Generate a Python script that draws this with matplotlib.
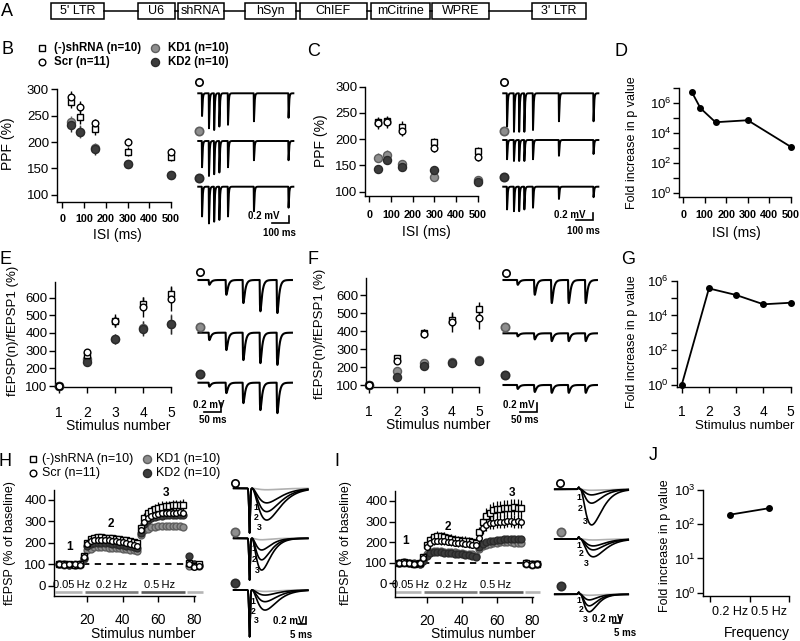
import numpy as np
import matplotlib
matplotlib.use("Agg")
import matplotlib.pyplot as plt
from matplotlib.patches import Rectangle
from matplotlib.ticker import FixedLocator, FuncFormatter, NullLocator

plt.rcParams['font.family'] = ['Liberation Sans', 'DejaVu Sans']
plt.rcParams['mathtext.fontset'] = 'custom'
plt.rcParams['mathtext.rm'] = 'Liberation Sans'
plt.rcParams['mathtext.it'] = 'Liberation Sans:italic'
plt.rcParams['mathtext.bf'] = 'Liberation Sans:bold'

# ---------------- DATA ----------------
construct = ["5' LTR", "U6", "shRNA", "hSyn", "ChIEF", "mCitrine", "WPRE", "3' LTR"]
group_keys = ["shRNA", "Scr", "KD1", "KD2"]
group_labels = ["(-)shRNA (n=10)", "Scr (n=11)", "KD1 (n=10)", "KD2 (n=10)"]

isi_ms = [40, 80, 150, 300, 500]
B_ppf = {"shRNA": [275, 247, 224, 182, 172], "Scr": [285, 267, 236, 200, 181],
         "KD1": [238, 220, 188, 158, 137], "KD2": [232, 220, 186, 158, 137]}
B_err = {"shRNA": [10, 12, 10, 8, 8], "Scr": [12, 10, 8, 8, 8],
         "KD1": [12, 12, 10, 6, 6], "KD2": [12, 10, 10, 6, 6]}
C_ppf = {"shRNA": [233, 235, 224, 194, 178], "Scr": [230, 232, 216, 183, 166],
         "KD1": [165, 170, 152, 128, 122], "KD2": [143, 160, 148, 142, 119]}
C_err = {"shRNA": [10, 10, 10, 8, 8], "Scr": [10, 10, 10, 8, 8],
         "KD1": [8, 10, 6, 6, 5], "KD2": [8, 8, 6, 6, 5]}
D_fold = [5.5e6, 4.6e5, 5.3e4, 7.2e4, 1.2e3]

stim_idx = [1, 2, 3, 4, 5]
E_ratio = {"shRNA": [100, 275, 470, 565, 622], "Scr": [100, 292, 465, 548, 592],
           "KD1": [100, 252, 365, 427, 450], "KD2": [100, 235, 365, 425, 448]}
E_err = {"shRNA": [0, 15, 35, 40, 45], "Scr": [0, 20, 30, 55, 70],
         "KD1": [0, 15, 30, 40, 55], "KD2": [0, 15, 30, 40, 55]}
F_ratio = {"shRNA": [100, 248, 390, 461, 520], "Scr": [100, 232, 385, 448, 472],
           "KD1": [100, 176, 222, 230, 238], "KD2": [100, 145, 205, 222, 233]}
F_err = {"shRNA": [0, 15, 20, 40, 40], "Scr": [0, 15, 25, 55, 60],
         "KD1": [0, 10, 10, 12, 12], "KD2": [0, 8, 10, 10, 12]}
G_fold = [1, 3.6e5, 1.5e5, 4.4e4, 5.4e4]

stim_num = [4, 7, 10, 13, 16, 18, 20, 22, 24, 26, 28, 30, 32, 34, 36, 38, 40, 42, 44, 46, 48,
            50, 52, 54, 56, 58, 60, 62, 64, 66, 68, 70, 72, 74, 77, 80, 83]
H_val = {
    "shRNA": [100, 102, 100, 98, 100, 140, 200, 218, 225, 228, 226, 225, 224, 222, 220, 218, 215, 212, 208, 204, 198,
              270, 318, 338, 350, 358, 364, 368, 370, 372, 374, 375, 376, 378, 105, 95, 100],
    "Scr": [100, 98, 102, 100, 97, 135, 195, 208, 214, 216, 215, 214, 212, 210, 208, 205, 203, 200, 195, 190, 185,
            258, 298, 314, 324, 330, 334, 337, 339, 340, 341, 340, 342, 340, 100, 90, 95],
    "KD1": [100, 99, 97, 100, 98, 125, 165, 174, 180, 182, 182, 180, 178, 177, 176, 175, 173, 170, 168, 165, 162,
            235, 258, 267, 272, 275, 277, 278, 278, 280, 280, 279, 278, 276, 95, 100, 98],
    "KD2": [100, 101, 99, 98, 100, 130, 185, 195, 200, 202, 202, 200, 198, 196, 194, 192, 190, 187, 184, 180, 176,
            245, 290, 305, 314, 320, 324, 327, 329, 330, 331, 332, 332, 331, 140, 100, 95],
}
H_err = {
    "shRNA": [4, 4, 4, 4, 4, 10, 12, 14, 15, 15, 15, 15, 15, 15, 15, 15, 14, 14, 14, 14, 14,
              15, 20, 22, 22, 24, 24, 25, 25, 25, 25, 25, 25, 25, 12, 10, 10],
    "Scr": [4, 4, 4, 4, 4, 10, 12, 12, 13, 13, 13, 13, 13, 13, 13, 12, 12, 12, 12, 12, 12,
            14, 18, 20, 20, 20, 21, 21, 21, 22, 22, 22, 22, 22, 10, 10, 10],
    "KD1": [3, 3, 3, 3, 3, 8, 9, 10, 10, 10, 10, 10, 10, 10, 10, 10, 10, 10, 10, 10, 10,
            10, 12, 12, 12, 13, 13, 13, 13, 13, 13, 13, 13, 13, 8, 8, 8],
    "KD2": [3, 3, 3, 3, 3, 8, 10, 10, 11, 11, 11, 11, 11, 11, 11, 11, 11, 11, 11, 11, 11,
            12, 14, 15, 15, 15, 15, 15, 15, 15, 15, 15, 15, 15, 15, 8, 8],
}
I_val = {
    "shRNA": [100, 102, 98, 95, 98, 130, 188, 212, 224, 230, 228, 225, 220, 216, 212, 210, 208, 206, 204, 200, 198,
              250, 300, 328, 344, 354, 360, 362, 365, 367, 368, 370, 368, 365, 100, 95, 92],
    "Scr": [100, 98, 100, 96, 97, 125, 175, 194, 204, 208, 206, 205, 203, 200, 198, 196, 194, 192, 190, 188, 185,
            220, 268, 284, 292, 295, 298, 300, 300, 302, 302, 300, 301, 300, 95, 88, 95],
    "KD1": [100, 100, 98, 96, 95, 112, 140, 150, 155, 156, 155, 154, 152, 150, 150, 148, 146, 144, 142, 140, 135,
            165, 180, 188, 192, 196, 198, 200, 200, 201, 200, 198, 196, 195, 95, 90, 92],
    "KD2": [100, 102, 100, 97, 96, 110, 135, 145, 150, 150, 150, 148, 146, 145, 144, 142, 140, 138, 136, 134, 130,
            175, 190, 200, 205, 208, 210, 212, 214, 215, 215, 216, 215, 214, 98, 92, 95],
}
I_err = {
    "shRNA": [5, 5, 5, 5, 5, 12, 18, 20, 22, 22, 22, 22, 22, 22, 22, 22, 22, 22, 22, 22, 22,
              25, 35, 38, 40, 40, 40, 40, 40, 40, 40, 40, 40, 40, 10, 10, 10],
    "Scr": [5, 5, 5, 5, 5, 10, 15, 16, 18, 18, 18, 18, 18, 18, 18, 18, 18, 18, 18, 18, 18,
            20, 28, 30, 30, 30, 30, 30, 30, 30, 30, 30, 30, 30, 8, 8, 8],
    "KD1": [3, 3, 3, 3, 3, 6, 8, 8, 8, 8, 8, 8, 8, 8, 8, 8, 8, 8, 8, 8, 8,
            8, 10, 10, 10, 10, 10, 10, 10, 10, 10, 10, 10, 10, 6, 6, 6],
    "KD2": [3, 3, 3, 3, 3, 6, 8, 8, 8, 8, 8, 8, 8, 8, 8, 8, 8, 8, 8, 8, 8,
            8, 10, 10, 10, 10, 10, 10, 10, 10, 10, 10, 10, 10, 6, 6, 6],
}
freq_phases = [("0.05 Hz", 2, 17), ("0.2 Hz", 18.5, 48.5), ("0.5 Hz", 50, 75), ("", 76, 85)]
freq_labels = ["0.2 Hz", "0.5 Hz"]
J_fold = [190, 295]

# example traces (times in ms, amplitudes in mV)
ppf_trace_ms = [0, 40, 70, 100, 150, 300, 500]
B_trace_amp = {"Scr": [0.65, 1.0, 1.05, 0.95, 0.9, 0.8, 0.7],
               "KD1": [0.75, 1.0, 0.95, 0.9, 0.75, 0.55, 0.55],
               "KD2": [0.85, 1.05, 1.0, 0.95, 0.85, 0.7, 0.6]}
C_trace_amp = {"Scr": [0.95, 1.1, 1.1, 1.1, 1.05, 0.8, 0.8],
               "KD1": [0.55, 0.6, 0.6, 0.6, 0.55, 0.45, 0.4],
               "KD2": [0.65, 0.7, 0.7, 0.65, 0.6, 0.35, 0.3]}
train_trace_ms = [0, 50, 100, 150, 200]
E_trace_amp = {"Scr": [0.11, 0.34, 0.53, 0.72, 0.76],
               "KD1": [0.17, 0.40, 0.63, 0.70, 0.74],
               "KD2": [0.09, 0.24, 0.47, 0.63, 0.70]}
F_trace_amp = {"Scr": [0.11, 0.34, 0.53, 0.53, 0.53],
               "KD1": [0.07, 0.14, 0.18, 0.18, 0.18],
               "KD2": [0.09, 0.16, 0.18, 0.18, 0.18]}
H_trace_amp = {"Scr": [0.40, 0.64, 0.87], "KD1": [0.32, 0.59, 0.87], "KD2": [0.14, 0.32, 0.55]}
H_trace_peak_ms = {"Scr": 11.6, "KD1": 8.3, "KD2": 10.5}
H_artifact_mv = {"Scr": 1.22, "KD1": 1.14, "KD2": 1.28}
I_trace_amp = {"Scr": [0.17, 0.42, 1.08], "KD1": [0.21, 0.33, 0.54], "KD2": [0.17, 0.35, 0.53]}
I_trace_peak_ms = {"Scr": 9.1, "KD1": 10.2, "KD2": 7.5}

# ---------------- FIGURE ----------------
W, H = 800, 641
fig = plt.figure(figsize=(8, 6.41), dpi=100)


def px_ax(x0, y0, x1, y1):
    ax = fig.add_axes([x0 / W, 1 - y1 / H, (x1 - x0) / W, (y1 - y0) / H])
    ax.set_facecolor('none')
    return ax


def style(ax, xpad=4, xsize=9.5):
    for s in ('top', 'right'):
        ax.spines[s].set_visible(False)
    for s in ('left', 'bottom'):
        ax.spines[s].set_linewidth(1.0)
    ax.tick_params(axis='y', direction='out', length=4.5, width=1.0, labelsize=9.5, pad=1)
    ax.tick_params(axis='x', direction='out', length=4.5, width=1.0, labelsize=xsize, pad=xpad)


gstyle = {
    'shRNA': dict(marker='s', mfc='white', mec='black', ec='black', ms=4.6),
    'Scr': dict(marker='o', mfc='white', mec='black', ec='black', ms=4.8),
    'KD1': dict(marker='o', mfc='#8e8e8e', mec='#5e5e5e', ec='#6a6a6a', ms=5.8),
    'KD2': dict(marker='o', mfc='#3c3c3c', mec='#2a2a2a', ec='#2a2a2a', ms=5.8),
}
draw_order = ['KD1', 'KD2', 'shRNA', 'Scr']


def draw_group(ax, x, y, e, key, scale=1.0, elw=1.0):
    st = gstyle[key]
    x = np.asarray(x, float); y = np.asarray(y, float); e = np.asarray(e, float)
    ax.vlines(x, y - e, y + e, colors=st['ec'], linewidth=elw, clip_on=False, zorder=2)
    ax.plot(x, y, linestyle='none', marker=st['marker'], mfc=st['mfc'], mec=st['mec'],
            ms=st['ms'] * scale, mew=1.0, clip_on=False, zorder=3)


def log_axis(ax, decades, labeled):
    ax.set_yscale('log')
    ax.yaxis.set_major_locator(FixedLocator([10.0 ** d for d in decades]))
    ax.yaxis.set_minor_locator(NullLocator())
    ax.yaxis.set_major_formatter(FuncFormatter(
        lambda v, p: (r'$\mathregular{10^{%d}}$' % int(round(np.log10(v))))
        if int(round(np.log10(v))) in labeled else ''))


def bold_xticks(ax, size):
    for t in ax.get_xticklabels():
        t.set_fontweight('bold'); t.set_fontsize(size)


# ---- B ----
axB = px_ax(56.7, 89.3, 171, 201.7)
axB.set_xlim(-26, 500); axB.set_ylim(87, 300)
axB.set_xticks([0, 100, 200, 300, 400, 500]); axB.set_yticks([100, 150, 200, 250, 300])
style(axB, xpad=4.5, xsize=7.8)
bold_xticks(axB, 7.8)
for k in draw_order:
    draw_group(axB, isi_ms, B_ppf[k], B_err[k], k)

# ---- C ----
axC = px_ax(365, 86.7, 477.7, 195.7)
axC.set_xlim(-20, 500); axC.set_ylim(92.4, 300)
axC.set_xticks([0, 100, 200, 300, 400, 500]); axC.set_yticks([100, 150, 200, 250, 300])
style(axC, xpad=6, xsize=7.8)
bold_xticks(axC, 7.8)
for k in draw_order:
    draw_group(axC, isi_ms, C_ppf[k], C_err[k], k)

# ---- D ----
axD = px_ax(679.3, 88.3, 790.7, 196.7)
axD.set_xlim(-18.6, 500)
log_axis(axD, range(0, 8), [0, 2, 4, 6])
axD.set_ylim(10 ** -0.27, 1e7)
axD.set_xticks([0, 100, 200, 300, 400, 500])
style(axD, xpad=5, xsize=7.8)
bold_xticks(axD, 7.8)
axD.plot(isi_ms, D_fold, color='black', lw=1.3, marker='o', ms=4, clip_on=False)

# ---- E ----
axE = px_ax(55, 281.7, 171, 387.3)
axE.set_xlim(0.846, 5); axE.set_ylim(92.7, 690)
axE.set_xticks(stim_idx); axE.set_yticks([100, 200, 300, 400, 500, 600])
style(axE, xpad=9, xsize=10)
for k in draw_order:
    draw_group(axE, stim_idx, E_ratio[k], E_err[k], k)

# ---- F ----
axF = px_ax(366, 278.3, 479.3, 386.7)
axF.set_xlim(0.88, 5); axF.set_ylim(90.6, 693)
axF.set_xticks(stim_idx); axF.set_yticks([100, 200, 300, 400, 500, 600])
style(axF, xpad=8.5, xsize=10)
for k in draw_order:
    draw_group(axF, stim_idx, F_ratio[k], F_err[k], k)

# ---- G ----
axG = px_ax(676.7, 280.7, 790.7, 387.3)
axG.set_xlim(0.817, 5)
log_axis(axG, range(0, 7), [0, 2, 4, 6])
axG.set_ylim(10 ** -0.13, 1e6)
axG.set_xticks(stim_idx)
style(axG, xpad=8, xsize=10)
axG.plot(stim_idx, G_fold, color='black', lw=1.3, marker='o', ms=4, clip_on=False)


# ---- H and I ----
def protocol_axes(rect, xlim, ylim, bar_y, dash_x, hz_pos, num_pos, vals, errs, xpad):
    ax = px_ax(*rect)
    ax.set_xlim(*xlim); ax.set_ylim(*ylim)
    ax.set_xticks([20, 40, 60, 80]); ax.set_yticks([0, 100, 200, 300, 400])
    style(ax, xpad=xpad, xsize=10)
    ax.spines['bottom'].set_bounds(xlim[0], 80.5)
    cols = ['#b5b5b5', '#7c7c7c', '#5a5a5a', '#b5b5b5']
    for (lab, a, b), c in zip(freq_phases, cols):
        ax.plot([a, b], [bar_y, bar_y], color=c, lw=1.9, solid_capstyle='butt', clip_on=False)
    for (lab, a, b), (hx, hy) in zip(freq_phases[:3], hz_pos):
        ax.text(hx, hy, lab.replace(' ', '\u2009'), fontsize=8, ha='center', va='center')
    ax.plot(dash_x, [100, 100], color='black', lw=1.3, ls=(0, (3.5, 3)), zorder=1)
    for lab, (nx, ny) in zip(['1', '2', '3'], num_pos):
        ax.text(nx, ny, lab, fontsize=8.5, fontweight='bold', ha='center', va='center')
    for k in draw_order:
        draw_group(ax, stim_num, vals[k], errs[k], k, scale=0.85, elw=0.9)
    return ax


axH = protocol_axes((54, 490, 203, 596), (1.35, 85), (-46.5, 446), -27, [17.5, 75],
                    [(11.2, 3), (33.7, 3), (60.4, 3)], [(10, 180), (33, 287), (64, 430)],
                    H_val, H_err, xpad=7.5)
axI = protocol_axes((395, 490.7, 541.7, 597.3), (1.9, 85.7), (-68, 450), -41, [18, 75],
                    [(10.8, -7), (34.3, -7), (59.6, -7)], [(7.7, 205), (32, 275), (68.5, 437)],
                    I_val, I_err, xpad=7.5)

# ---- J ----
axJ = px_ax(703.3, 490, 789.3, 596)
axJ.set_xlim(0.33, 2.5)
log_axis(axJ, range(0, 4), [0, 1, 2, 3])
axJ.set_ylim(10 ** -0.097, 1e3)
axJ.set_xticks([0.5, 1.5, 2.5]); axJ.set_xticklabels(['', '', ''])
axJ.set_xticks([1, 2], minor=True); axJ.set_xticklabels(freq_labels, minor=True)
style(axJ, xpad=3, xsize=9)
axJ.tick_params(axis='x', which='minor', length=0, labelsize=9, pad=7)
axJ.plot([1, 2], J_fold, color='black', lw=1.3, marker='o', ms=4, clip_on=False)


# ---------------- TRACES ----------------
def trace_ax(rect, t0_px, px_ms, px_mv):
    x0, y0, x1, y1 = rect
    ax = px_ax(x0, y0, x1, y1)
    ax.set_xlim((x0 - t0_px) / px_ms, (x1 - t0_px) / px_ms)
    ax.set_ylim(-(y1 - y0) / px_mv, 0)
    ax.axis('off')
    conv = lambda xp, yp: ((xp - t0_px) / px_ms, -(yp - y0) / px_mv)
    return ax, conv


def dexp(t, onset, tr, td):
    s = t - onset
    out = np.zeros_like(t)
    m = s > 0
    tp = tr * td / (td - tr) * np.log(td / tr)
    norm = np.exp(-tp / td) - np.exp(-tp / tr)
    out[m] = (np.exp(-s[m] / td) - np.exp(-s[m] / tr)) / norm
    return out


def gam(t, onset, tau):
    s = np.clip(t - onset, 0, None) / tau
    return s ** 2 * np.exp(2 * (1 - s))


def scalebar(ax, conv, corner_px, t_len, v_len, lab_v, lab_t, vtxt_px, ttxt_px):
    cx, cy = conv(*corner_px)
    ax.plot([cx - t_len, cx, cx], [cy, cy, cy + v_len], color='black', lw=1.2,
            solid_joinstyle='miter', clip_on=False)
    overlay_texts.append((vtxt_px, lab_v))
    overlay_texts.append((ttxt_px, lab_t))


overlay_texts = []
trace_markers = []

# B & C paired-pulse traces
for rect, t0, amps, basel, mk_px, corner, vtxt, ttxt in [
        ((195, 75, 300, 240), 201.7, B_trace_amp, [93.3, 141, 186.7],
         [(199.3, 81.7), (199.3, 130.7), (199.3, 178.3)], (289.3, 222.7), (263.3, 216), (279.3, 232.7)),
        ((500, 75, 605, 240), 506.7, C_trace_amp, [93.3, 140, 186.7],
         [(504.3, 81.7), (504.3, 130.7), (504.3, 177.3)], (593.3, 220), (570, 214.5), (583, 230.5))]:
    ax, conv = trace_ax(rect, t0, 0.173, 35)
    t = np.arange(-20, 530, 0.2)
    for k, b_px, m_px in zip(['Scr', 'KD1', 'KD2'], basel, mk_px):
        base = conv(0, b_px)[1]
        v = np.zeros_like(t)
        for ts, a in zip(ppf_trace_ms, amps[k]):
            v -= a * dexp(t, ts + 0.5, 0.8, 3.0)
        ax.plot(t, base + v, color='black', lw=1.4)
        trace_markers.append((m_px, k))
    scalebar(ax, conv, corner, 100, 0.2, '0.2 mV', '100 ms', vtxt, ttxt)

# E & F train traces
for rect, t0, amps, basel, mk_px, corner, vtxt, ttxt in [
        ((195, 265, 300, 430), 208.3, E_trace_amp, [280, 332.7, 382.7],
         [(200, 271.7), (200, 326.7), (200, 374)], (220.7, 411.7), (209, 405.5), (213, 420)),
        ((500, 265, 605, 430), 516.7, F_trace_amp, [280, 333.3, 385],
         [(506, 272.7), (505, 326.7), (505, 375)], (536.7, 411.7), (519, 405.5), (525, 420))]:
    ax, conv = trace_ax(rect, t0, 0.34, 43.5)
    t0_ms = conv(rect[0] + 3.5, 0)[0]
    t = np.arange(t0_ms, t0_ms + 275, 0.2)
    for k, b_px, m_px in zip(['Scr', 'KD1', 'KD2'], basel, mk_px):
        base = conv(0, b_px)[1]
        v = np.zeros_like(t)
        for ts, a in zip(train_trace_ms, amps[k]):
            v -= a * dexp(t, ts + 1, 1.2, 5.0)
        ax.plot(t, base + v, color='black', lw=1.5)
        trace_markers.append((m_px, k))
    scalebar(ax, conv, corner, 50, 0.2, '0.2 mV', '50 ms', vtxt, ttxt)

# H traces
axHt, convH = trace_ax((228, 475, 335, 641), 249, 1.53, 36.5)
tH = np.arange(-10, 38.5, 0.05)
H_num_px = {"Scr": [(256, 507.5), (256, 517), (259, 527)],
            "KD1": [(254, 548.5), (254, 559), (257, 570.5)],
            "KD2": [(253, 601.5), (253, 611), (256, 620.5)]}
for k, b_px, m_px in zip(['Scr', 'KD1', 'KD2'], [488.3, 538.3, 590],
                         [(235, 483.3), (235, 531.7), (235, 583.3)]):
    base = convH(0, b_px)[1]
    art = -H_artifact_mv[k] * np.exp(-((tH - 0.4) / 0.55) ** 2)
    axHt.plot(tH, base + art - 0.04 * gam(tH, 2, H_trace_peak_ms[k] - 2), color='#b0b0b0', lw=1.2)
    for a in H_trace_amp[k]:
        axHt.plot(tH, base + art - a * gam(tH, 2, H_trace_peak_ms[k] - 2), color='black', lw=1.2)
    for lab, p in zip(['1', '2', '3'], H_num_px[k]):
        overlay_texts.append((p, lab, 'num'))
    trace_markers.append((m_px, k))
scalebar(axHt, convH, (306, 624), 5, 0.2, '0.2 mV', '5 ms', (289, 621), (301, 634.5))

# I traces
axIt, convI = trace_ax((550, 475, 640, 641), 578.3, 1.47, 33)
tI = np.arange(-16, 34, 0.05)
I_num_px = {"Scr": [(579, 497), (580.5, 508.5), (585.5, 522)],
            "KD1": [(579, 545), (581.5, 554), (586.5, 563.5)],
            "KD2": [(578.5, 600.5), (581.5, 609.5), (585.5, 619)]}
for k, b_px, m_px in zip(['Scr', 'KD1', 'KD2'], [489.3, 539, 594.3],
                         [(560, 482.7), (560.7, 531.7), (560.7, 586)]):
    base = convI(0, b_px)[1]
    art = 0.06 * np.exp(-((tI - 0.3) / 0.6) ** 2)
    axIt.plot(tI, base + art - 0.03 * gam(tI, 1.5, I_trace_peak_ms[k] - 1.5), color='#b0b0b0', lw=1.2)
    for a in I_trace_amp[k]:
        axIt.plot(tI, base + art - a * gam(tI, 1.5, I_trace_peak_ms[k] - 1.5), color='black', lw=1.2)
    for lab, p in zip(['1', '2', '3'], I_num_px[k]):
        overlay_texts.append((p, lab, 'num'))
    trace_markers.append((m_px, k))
scalebar(axIt, convI, (620, 623.3), 5, 0.2, '0.2 mV', '5 ms', (607.5, 619), (625, 633.5))

# ---------------- OVERLAY (labels, legends, construct) ----------------
ov = fig.add_axes([0, 0, 1, 1], zorder=10)
ov.set_xlim(0, W); ov.set_ylim(H, 0); ov.axis('off'); ov.set_facecolor('none')

# panel A construct
box_px = [(51, 104), (137.5, 175), (177.5, 224.3), (244.6, 295.7), (300, 366.8),
          (371.4, 430.4), (432, 489.3), (532, 586)]
by0, by1 = 2.5, 18.5
for i, (name, (a, b)) in enumerate(zip(construct, box_px)):
    ov.add_patch(Rectangle((a, by0), b - a, by1 - by0, fill=False, ec='black', lw=1.1))
    ov.text((a + b) / 2, (by0 + by1) / 2 + 0.5, name, fontsize=9, ha='center', va='center')
    if i < len(box_px) - 1:
        ov.plot([b, box_px[i + 1][0]], [(by0 + by1) / 2] * 2, color='black', lw=1.1)

# panel letters
for lab, (x, y) in zip("ABCDEFGHIJ", [(6.7, 11), (7.3, 50), (314, 51), (621, 51), (5.5, 260),
                                      (313.3, 260), (628.3, 260), (5.5, 461.7), (336.7, 461), (653.3, 455)]):
    ov.text(x, y, lab, fontsize=13, ha='center', va='center')


# legends
def legend_rows(xm, xt, y1, y2, bold, size):
    pos = {"shRNA": (xm[0], y1), "Scr": (xm[0], y2), "KD1": (xm[1], y1), "KD2": (xm[1], y2)}
    tx = {"shRNA": xt[0], "Scr": xt[0], "KD1": xt[1], "KD2": xt[1]}
    for k, lab in zip(group_keys, group_labels):
        st = gstyle[k]
        ov.plot(*pos[k], marker=st['marker'], mfc=st['mfc'], mec=st['mec'], ms=st['ms'], mew=1.0,
                linestyle='none')
        ov.text(tx[k], pos[k][1], lab, fontsize=size, fontweight='bold' if bold else 'normal',
                ha='left', va='center')


legend_rows((41.7, 155), (54, 167.5), 48.3, 61.7, True, 8.3)
legend_rows((33.3, 146.7), (42.5, 156), 459.3, 473.3, False, 9)

# trace markers
for (x, y), k in trace_markers:
    st = gstyle[k]
    fc = st['mfc'] if k != 'Scr' else 'white'
    ov.plot(x, y, marker='o', mfc=fc, mec=st['mec'], ms=5.3 if k == 'Scr' else 6.0, mew=1.2,
            linestyle='none')

for item in overlay_texts:
    if len(item) == 3:
        (x, y), lab, _ = item
        ov.text(x, y, lab, fontsize=6.3, fontweight='bold', ha='center', va='center')
    else:
        (x, y), lab = item
        ov.text(x, y, lab, fontsize=7, fontweight='bold', ha='center', va='center')

# axis labels
lab_kw = dict(ha='center', va='center')
ov.text(8.3, 144, 'PPF (%)', rotation=90, fontsize=10, **lab_kw)
ov.text(117, 235, 'ISI (ms)', fontsize=10, **lab_kw)
ov.text(320.5, 141, 'PPF (%)', rotation=90, fontsize=10, **lab_kw)
ov.text(426.7, 232, 'ISI (ms)', fontsize=10, **lab_kw)
ov.text(631.7, 143, 'Fold increase in p value', rotation=90, fontsize=9, **lab_kw)
ov.text(736.7, 233, 'ISI (ms)', fontsize=10, **lab_kw)
ov.text(13.3, 331, 'fEPSP(n)/fEPSP1 (%)', rotation=90, fontsize=9.5, **lab_kw)
ov.text(118.3, 426, 'Stimulus number', fontsize=10, **lab_kw)
ov.text(320, 334, 'fEPSP(n)/fEPSP1 (%)', rotation=90, fontsize=9.5, **lab_kw)
ov.text(438.3, 425, 'Stimulus number', fontsize=10, **lab_kw)
ov.text(631.7, 342, 'Fold increase in p value', rotation=90, fontsize=9, **lab_kw)
ov.text(745, 426, 'Stimulus number', fontsize=9.5, **lab_kw)
ov.text(10, 543, 'fEPSP (% of baseline)', rotation=90, fontsize=9, **lab_kw)
ov.text(143.3, 634.5, 'Stimulus number', fontsize=10, **lab_kw)
ov.text(346, 543, 'fEPSP (% of baseline)', rotation=90, fontsize=9, **lab_kw)
ov.text(483.3, 634.5, 'Stimulus number', fontsize=10, **lab_kw)
ov.text(665, 546, 'Fold increase in p value', rotation=90, fontsize=9, **lab_kw)
ov.text(756.7, 633, 'Frequency', fontsize=10, **lab_kw)

fig.savefig('out.png', dpi=100)
